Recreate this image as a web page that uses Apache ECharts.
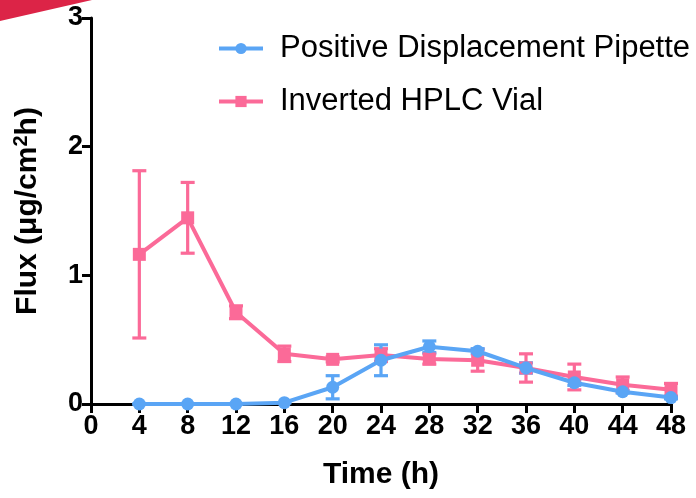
<!DOCTYPE html>
<html>
<head>
<meta charset="utf-8">
<script src="https://cdn.jsdelivr.net/npm/echarts@6/dist/echarts.min.js"></script>
<style>html,body{margin:0;padding:0;background:#fff}#c{width:696px;height:498px}</style>
</head>
<body>
<div id="c"></div>
<script>
var times = [4, 8, 12, 16, 20, 24, 28, 32, 36, 40, 44, 48];
var xTicks = [0, 4, 8, 12, 16, 20, 24, 28, 32, 36, 40, 44, 48];
var yTicks = [0, 1, 2, 3];
var pipetteMean = [0, 0, 0, 0.01, 0.13, 0.34, 0.445, 0.41, 0.28, 0.165, 0.095, 0.05];
var pipetteErr  = [0, 0, 0, 0, 0.09, 0.12, 0.045, 0.02, 0.04, 0.02, 0.01, 0.01];
var vialMean = [1.163, 1.447, 0.713, 0.39, 0.347, 0.38, 0.35, 0.34, 0.28, 0.21, 0.15, 0.11];
var vialErr  = [0.65, 0.275, 0.05, 0.06, 0.02, 0.05, 0.04, 0.085, 0.11, 0.1, 0.06, 0.05];
var names = ['Positive Displacement Pipette', 'Inverted HPLC Vial'];
var blue = '#5aa5f5';
var pink = '#fb6a98';

function pairs(m) { return times.map(function (t, i) { return [t, m[i]]; }); }
function errData(m, e) { return times.map(function (t, i) { return [t, m[i] - e[i], m[i] + e[i]]; }); }
function errSeries(name, m, e, color) {
  return {
    type: 'custom', name: name + ' error', z: 3,
    itemStyle: { color: color },
    data: errData(m, e),
    encode: { x: 0, y: [1, 2] },
    renderItem: function (params, api) {
      var lo = api.coord([api.value(0), api.value(1)]);
      var hi = api.coord([api.value(0), api.value(2)]);
      var w = 7;
      var st = { stroke: color, lineWidth: 3.2, fill: null };
      return { type: 'group', children: [
        { type: 'line', shape: { x1: lo[0], y1: lo[1], x2: hi[0], y2: hi[1] }, style: st },
        { type: 'line', shape: { x1: lo[0] - w, y1: lo[1], x2: lo[0] + w, y2: lo[1] }, style: st },
        { type: 'line', shape: { x1: hi[0] - w, y1: hi[1], x2: hi[0] + w, y2: hi[1] }, style: st }
      ]};
    }
  };
}

var chart = echarts.init(document.getElementById('c'));
var font = 'Liberation Sans, Arial, sans-serif';
chart.setOption({
  animation: false,
  backgroundColor: '#fff',
  graphic: [{ type: 'polygon', shape: { points: [[0, 0], [92, 0], [0, 21]] }, style: { fill: '#dc2447' }, z: 100 }],
  grid: { left: 91, right: 25, top: 18, bottom: 94, containLabel: false },
  legend: {
    data: names, orient: 'vertical', left: 212, top: 28, itemGap: 22,
    itemWidth: 44, itemHeight: 14,
    lineStyle: { width: 4 },
    textStyle: { fontFamily: font, fontSize: 31, color: '#000', padding: [0, 0, 0, 12] }
  },
  xAxis: {
    type: 'value', min: 0, max: 48, interval: 4,
    name: 'Time (h)', nameLocation: 'middle', nameGap: 56,
    nameTextStyle: { fontFamily: font, fontSize: 30, fontWeight: 'bold', color: '#000' },
    axisLine: { lineStyle: { color: '#000', width: 3 } },
    axisTick: { length: 9, lineStyle: { color: '#000', width: 3 } },
    axisLabel: { fontFamily: font, fontSize: 27, fontWeight: 'bold', color: '#000', margin: 9,
      formatter: function (v) { return xTicks.indexOf(v) >= 0 ? String(v) : ''; } },
    splitLine: { show: false }
  },
  yAxis: {
    type: 'value', min: 0, max: 3, interval: 1,
    name: '{a|Flux (μg/cm}{s|2}{a|h)}', nameLocation: 'middle', nameGap: 46, nameRotate: 90,
    nameTextStyle: { fontFamily: font, fontSize: 30, fontWeight: 'bold', color: '#000',
      rich: { a: { fontFamily: font, fontSize: 30, fontWeight: 'bold', color: '#000' },
              s: { fontFamily: font, fontSize: 20, fontWeight: 'bold', color: '#000', padding: [0, 0, 14, 0] } } },
    axisLine: { show: true, lineStyle: { color: '#000', width: 3 } },
    axisTick: { show: true, length: 9, lineStyle: { color: '#000', width: 3 } },
    axisLabel: { fontFamily: font, fontSize: 27, fontWeight: 'bold', color: '#000', margin: 8,
      formatter: function (v) { return yTicks.indexOf(v) >= 0 ? String(v) : ''; } },
    splitLine: { show: false }
  },
  series: [
    errSeries(names[1], vialMean, vialErr, pink),
    { type: 'line', name: names[1], data: pairs(vialMean), symbol: 'rect', symbolSize: 13, z: 4,
      itemStyle: { color: pink }, lineStyle: { color: pink, width: 4 } },
    errSeries(names[0], pipetteMean, pipetteErr, blue),
    { type: 'line', name: names[0], data: pairs(pipetteMean), symbol: 'circle', symbolSize: 13, z: 5,
      itemStyle: { color: blue }, lineStyle: { color: blue, width: 4 } }
  ]
});
</script>
</body>
</html>
